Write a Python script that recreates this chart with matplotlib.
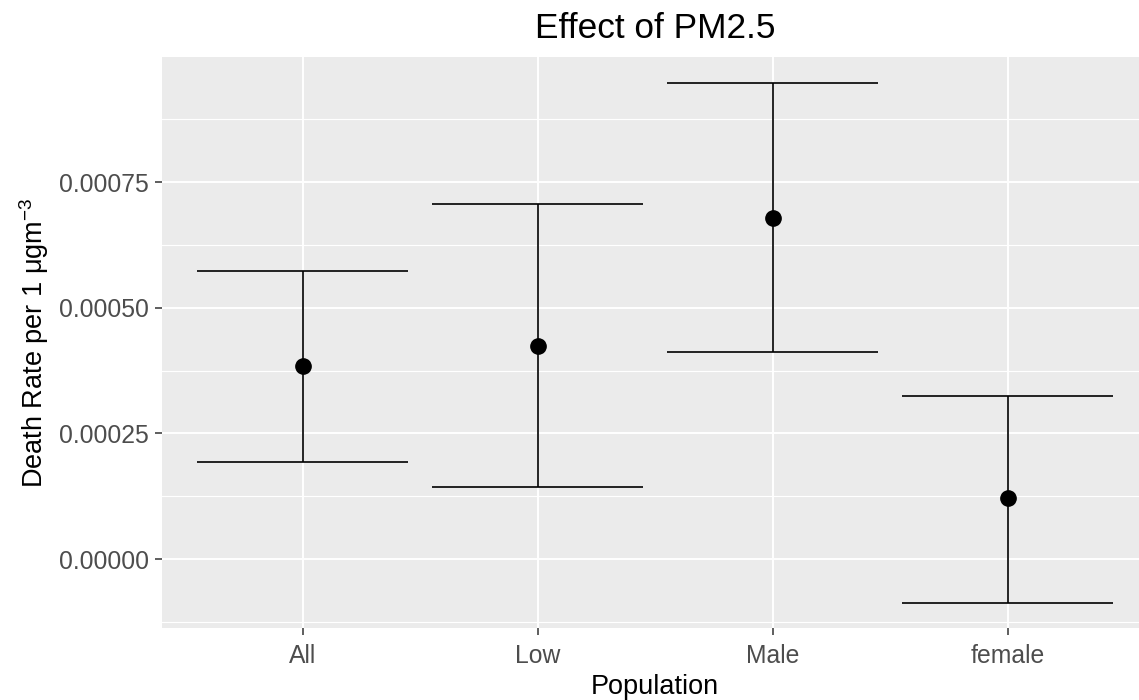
import matplotlib.pyplot as plt
import numpy as np
from matplotlib.ticker import MultipleLocator, FuncFormatter

plt.rcParams['font.family'] = ['Liberation Sans', 'DejaVu Sans']
plt.rcParams['mathtext.fontset'] = 'custom'
plt.rcParams['mathtext.rm'] = 'Liberation Sans'
plt.rcParams['mathtext.it'] = 'Liberation Sans:italic'

# data
groups = ['All', 'Low', 'Male', 'female']
estimate = [0.000384, 0.000423, 0.000679, 0.000121]
upper = [0.000574, 0.000707, 0.000947, 0.000324]
lower = [0.000194, 0.000144, 0.000412, -0.000088]

cap_half = 0.45   # errorbar width 0.9 (in category units)
x = np.arange(1, len(groups) + 1)

fig = plt.figure(figsize=(11.39, 7.0), dpi=100)
ax = fig.add_axes([0.142, 0.1029, 0.8665, 0.8157])
ax.set_facecolor('#EBEBEB')
for s in ax.spines.values():
    s.set_visible(False)

# grid like ggplot theme_grey
ax.yaxis.set_major_locator(MultipleLocator(0.00025))
ax.yaxis.set_minor_locator(MultipleLocator(0.000125))
ax.grid(which='major', color='white', lw=1.4)
ax.grid(which='minor', axis='y', color='white', lw=0.8)
ax.set_axisbelow(True)

ax.vlines(x, lower, upper, color='black', lw=1.2, zorder=3)
ax.hlines(upper, x - cap_half, x + cap_half, color='black', lw=1.2, zorder=3)
ax.hlines(lower, x - cap_half, x + cap_half, color='black', lw=1.2, zorder=3)
ax.plot(x, estimate, 'o', color='black', ms=11, zorder=4)

ax.set_xlim(0.4, len(groups) + 0.6)
ax.set_ylim(-0.000137, 0.000999)
ax.set_xticks(x)
ax.set_xticklabels(groups)
ax.yaxis.set_major_formatter(FuncFormatter(lambda v, p: f'{v:.5f}'))

ax.tick_params(which='major', length=5, width=1.1, color='#333333',
               labelcolor='#4D4D4D', labelsize=17.8)
ax.tick_params(which='minor', length=0)
ax.tick_params(axis='x', pad=6.5)
ax.tick_params(axis='y', pad=4)

ax.set_title('Effect of PM2.5', fontsize=25.4, pad=14)
ax.set_xlabel('Population', fontsize=19.5)
ax.set_ylabel(r'Death Rate per 1 μgm$^{-3}$', fontsize=19.5)
ax.xaxis.set_label_coords(0.5, -0.081)
ax.yaxis.set_label_coords(-0.112, 0.5)

fig.savefig('out.png', dpi=100)
